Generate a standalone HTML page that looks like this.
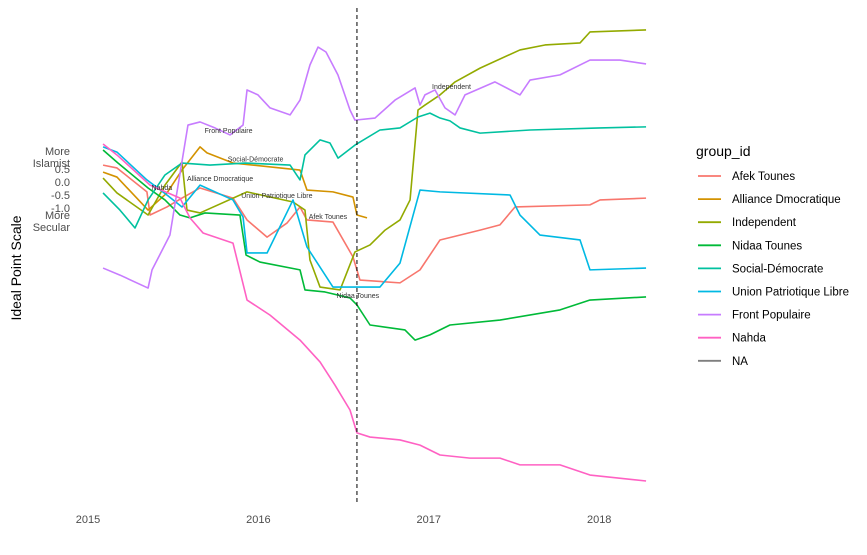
<!DOCTYPE html>
<html><head><meta charset="utf-8"><style>
body{margin:0;background:#fff;font-family:"Liberation Sans",sans-serif}
svg text{font-family:"Liberation Sans",sans-serif}
</style></head><body>
<svg id="c" width="867" height="550">
<g id="plot"></g>
<g id="axes"></g>
<g id="legend"></g>
</svg>
<script>
const groups=["Afek Tounes","Alliance Dmocratique","Independent","Nidaa Tounes","Social-Démocrate","Union Patriotique Libre","Front Populaire","Nahda","NA"];
const colors=["#F8766D","#D39200","#93AA00","#00BA38","#00C19F","#00B9E3","#C77CFF","#FF61C3","#7f7f7f"];
// months since Jan 2015
const afekX=[1.06,2.04,4.15,4.37,5.56,6.62,7.89,10.21,11.2,12.61,14.01,14.93,15.42,17.25,18.66,19.15,21.97,23.38,24.79,27.61,29.01,30.07,35.35,36.06,39.3];
const afekY=[0.65,0.54,-0.38,-1.27,-0.96,-0.62,-0.23,-0.62,-1.46,-2.12,-1.58,-0.96,-1.46,-1.54,-2.88,-3.77,-3.88,-3.38,-2.23,-1.85,-1.65,-0.96,-0.88,-0.69,-0.62];
const allianceX=[1.06,2.04,4.23,5.56,6.62,7.89,8.38,10.21,14.93,15.42,17.25,18.66,18.94,19.65];
const allianceY=[0.38,0.19,-1.08,-0.42,0.46,1.35,1.12,0.73,0.46,-0.31,-0.38,-0.58,-1.27,-1.38];
const indepX=[1.06,2.04,4.23,5.42,6.62,6.97,7.89,11.2,14.44,15.28,15.63,16.34,17.75,18.8,19.86,20.92,21.97,22.68,23.24,23.73,24.79,25.85,27.61,30.42,32.18,34.65,35.35,39.3];
const indepY=[0.15,-0.42,-1.27,-0.12,0.77,-1.08,-1.19,-0.38,-0.77,-1.08,-3.0,-4.04,-4.15,-2.69,-2.42,-1.85,-1.46,-0.69,2.77,2.96,3.35,3.85,4.38,5.08,5.27,5.35,5.77,5.85];
const nidaaX=[1.06,2.11,4.23,5.42,6.48,7.18,8.24,10.7,11.13,12.11,14.93,15.28,16.69,18.45,18.94,19.86,22.32,23.03,24.08,25.49,29.01,33.24,35.35,39.3];
const nidaaY=[1.23,0.73,-0.23,-0.69,-1.27,-1.38,-1.19,-1.27,-2.81,-3.08,-3.38,-4.15,-4.23,-4.46,-4.73,-5.5,-5.69,-6.08,-5.88,-5.5,-5.31,-4.92,-4.54,-4.42];
const socialX=[1.06,2.25,3.31,4.23,5.42,6.62,8.59,11.06,14.23,14.93,15.28,16.34,17.04,17.61,18.8,20.56,21.97,23.24,24.08,24.79,25.49,26.2,27.61,31.13,36.06,39.3];
const socialY=[-0.42,-1.08,-1.77,-0.69,0.27,0.73,0.65,0.73,0.65,0.08,1.04,1.62,1.5,0.92,1.42,2.0,2.08,2.5,2.65,2.46,2.35,2.08,1.88,2.0,2.08,2.12];
const uplX=[1.06,2.04,4.15,5.56,6.62,7.89,10.21,10.92,11.2,12.61,14.44,15.42,17.25,18.66,20.56,21.97,23.38,24.79,29.72,30.42,31.83,34.65,35.35,39.3];
const uplY=[1.35,1.15,0.08,-0.5,-0.96,-0.12,-0.69,-1.35,-2.73,-2.73,-0.69,-2.5,-4.04,-4.04,-4.04,-3.12,-0.31,-0.38,-0.5,-1.27,-2.04,-2.23,-3.38,-3.31];
const frontX=[1.06,2.25,4.23,4.51,5.77,7.04,7.89,8.94,10.0,10.92,11.2,11.97,12.82,14.23,14.93,15.63,16.2,16.76,17.6,18.45,18.8,20.21,21.62,23.03,23.38,23.73,24.44,25.14,25.85,26.55,28.66,30.42,31.13,33.24,35.35,37.46,39.3];
const frontY=[-3.31,-3.58,-4.08,-3.38,-2.04,2.19,2.31,2.08,1.81,2.19,3.54,3.35,2.85,2.58,3.15,4.5,5.19,5.0,4.12,2.77,2.38,2.46,3.15,3.62,2.96,3.35,3.54,2.85,2.58,3.35,3.85,3.35,3.92,4.12,4.69,4.69,4.54];
const nahdaX=[1.06,2.04,4.37,6.48,7.18,8.1,10.21,11.2,12.82,14.93,16.34,17.39,18.45,18.94,19.86,21.97,23.38,24.79,26.9,29.01,30.42,33.24,35.35,39.3];
const nahdaY=[1.46,1.04,-0.12,-0.62,-1.38,-1.96,-2.35,-4.54,-5.12,-6.08,-6.92,-7.81,-8.77,-9.65,-9.81,-9.92,-10.12,-10.5,-10.62,-10.62,-10.88,-10.88,-11.27,-11.5];
const seriesX=[afekX,allianceX,indepX,nidaaX,socialX,uplX,frontX,nahdaX];
const seriesY=[afekY,allianceY,indepY,nidaaY,socialY,uplY,frontY,nahdaY];
const yearTicks=[0,12,24,36];
const yearLabels=["2015","2016","2017","2018"];
const yTicks=[0.5,0,-0.5,-1];
const yTickLabels=["0.5","0.0","-0.5","-1.0"];
const eventMonth=18.94;
const labelNames=["Front Populaire","Social-Démocrate","Alliance Dmocratique","Nahda","Union Patriotique Libre","Afek Tounes","Nidaa Tounes","Independent"];
const labelX=[9.9,11.8,9.3,5.2,13.3,16.9,19.0,25.6];
const labelY=[2.0,0.9,0.15,-0.2,-0.5,-1.3,-4.35,3.7];

const NS="http://www.w3.org/2000/svg";
const xs=m=>88+m*14.2;
const ys=v=>182-v*26;
function mk(tag,attrs,parent){const e=document.createElementNS(NS,tag);for(const k in attrs)e.setAttribute(k,attrs[k]);parent.appendChild(e);return e;}
const plot=document.getElementById('plot'),axes=document.getElementById('axes'),legend=document.getElementById('legend');
seriesX.forEach((xa,i)=>{
  const p=mk('polyline',{points:xa.map((x,j)=>xs(x)+','+ys(seriesY[i][j])).join(' '),fill:'none',stroke:colors[i],'stroke-width':1.6,'stroke-linejoin':'round'},plot);
  
  
});
const dl=mk('line',{x1:xs(eventMonth),x2:xs(eventMonth),y1:8,y2:505,stroke:'#000','stroke-width':1,'stroke-dasharray':'4,3'},plot);


labelNames.forEach((n,i)=>{
  const t=mk('text',{x:xs(labelX[i]),y:ys(labelY[i])+3,'font-size':7,fill:'#333','text-anchor':'middle'},plot);
  t.textContent=n;
  
  
});
yearTicks.forEach((m,i)=>{
  const t=mk('text',{x:xs(m),y:523,'font-size':11,fill:'#4d4d4d','text-anchor':'middle'},axes);
  t.textContent=yearLabels[i];
  
  
});
yTicks.forEach((v,i)=>{
  const t=mk('text',{x:70,y:ys(v)+4,'font-size':11,fill:'#4d4d4d','text-anchor':'end'},axes);
  t.textContent=yTickLabels[i];
  
  
});
[["More",155],["Islamist",167],["More",219],["Secular",231]].forEach(a=>{
  const t=mk('text',{x:70,y:a[1],'font-size':11,fill:'#4d4d4d','text-anchor':'end'},axes);
  t.textContent=a[0];
  
  
});
const yt=mk('text',{x:0,y:0,'font-size':14,fill:'#000','text-anchor':'middle',transform:'translate(21,268) rotate(-90)'},axes);
yt.textContent="Ideal Point Scale";


const lt=mk('text',{x:696,y:156,'font-size':14,fill:'#000'},legend);
lt.textContent="group_id";


groups.forEach((g,i)=>{
  const y=176+i*23.1;
  const l=mk('line',{x1:698,x2:721,y1:y,y2:y,stroke:colors[i],'stroke-width':1.8},legend);
  
  
  const t=mk('text',{x:732,y:y+4,'font-size':11.5,fill:'#000'},legend);
  t.textContent=g;
  
  
});
</script>
</body></html>
